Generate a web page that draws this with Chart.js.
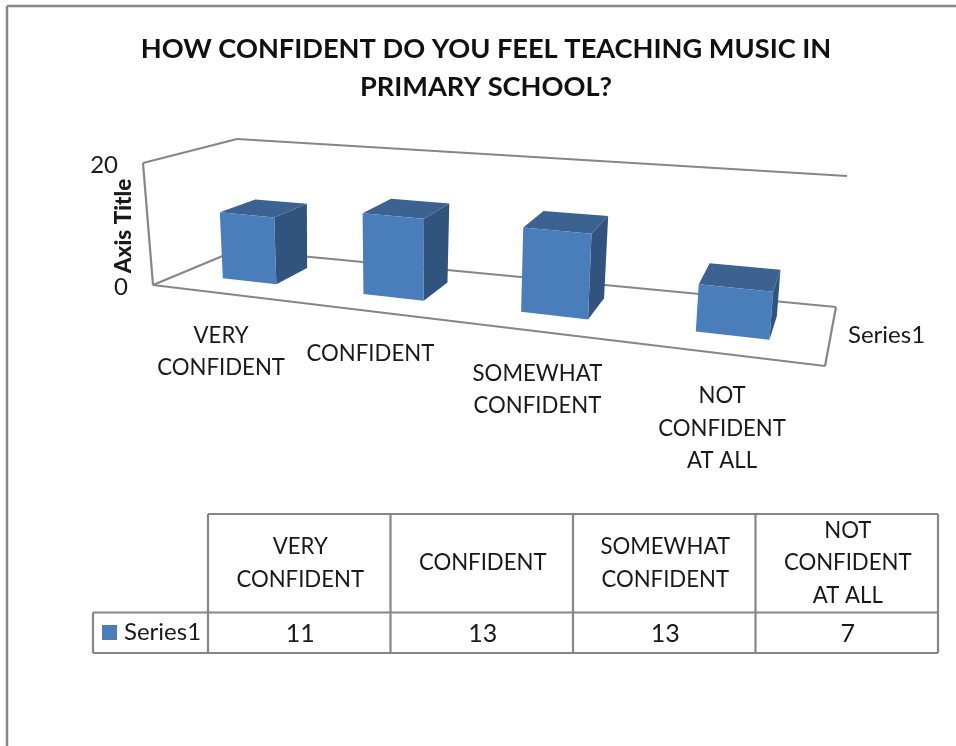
<!DOCTYPE html>
<html><head><meta charset="utf-8">
<style>html,body{margin:0;padding:0;background:#fff}canvas{display:block}</style>
<script src="https://cdn.jsdelivr.net/npm/chart.js@4"></script>
</head><body>
<canvas id="c" width="956" height="746"></canvas>
<script>
const categories = [["VERY","CONFIDENT"],["CONFIDENT"],["SOMEWHAT","CONFIDENT"],["NOT","CONFIDENT","AT ALL"]];
const seriesName = "Series1";
const values = [11,13,13,7];
const valueTicks = [0,20];
const chartTitle = ["HOW CONFIDENT DO YOU FEEL TEACHING MUSIC IN","PRIMARY SCHOOL?"];
const axisTitle = "Axis Title";

const FONT = 'Lato, "Open Sans", sans-serif';
const LINE = '#868686', TEXT = '#1a1a1a';
const FRONT = '#4a7ebb', SIDE = '#31547e', TOP = '#3b6290';
// box corners of the 3D projection: [floor front-left, front-right, back-left, back-right] and same at the top
const floorBox = [[153,285],[825,366],[237,250],[836,307]];
const topBox   = [[143,163],[838,222],[237,139],[847,176]];
const depthFront = 0.33, depthBack = 0.75;

function mix(a,b,k){return [a[0]+(b[0]-a[0])*k,a[1]+(b[1]-a[1])*k];}
function bil(q,u,w){return mix(mix(q[0],q[1],u),mix(q[2],q[3],u),w);}
function warp(t){return 0.0045+0.784*t+0.21*t*t;}
function project(t,v,w){const u=warp(t);return mix(bil(floorBox,u,w),bil(topBox,u,w),v);}
function poly(ctx,pts,fill){ctx.beginPath();pts.forEach((p,i)=>i?ctx.lineTo(p[0],p[1]):ctx.moveTo(p[0],p[1]));ctx.closePath();ctx.fillStyle=fill;ctx.fill();}
function seg(ctx,a,b){ctx.beginPath();ctx.moveTo(a[0],a[1]);ctx.lineTo(b[0],b[1]);ctx.stroke();}

const threeD = {
  id:'threeD',
  beforeDraw(chart){
    const ctx=chart.ctx;ctx.save();
    ctx.strokeStyle=LINE;ctx.lineWidth=2.5;
    seg(ctx,[7,746],[7,6]);seg(ctx,[7,6],[956,6]);
    ctx.lineWidth=2.2;
    const F=floorBox,T=topBox;
    [[T[0],F[0]],[T[0],T[2]],[T[2],T[3]],[F[0],F[2]],[F[2],F[3]],[F[0],F[1]],[F[1],F[3]]].forEach(s=>seg(ctx,s[0],s[1]));
    ctx.restore();
  },
  beforeDatasetDraw(){return false;},
  afterDatasetsDraw(chart){
    const ctx=chart.ctx,a=chart.chartArea,ys=chart.scales.y;ctx.save();
    const meta=chart.getDatasetMeta(0);
    meta.data.forEach(el=>{
      const p=el.getProps(['x','y','base','width'],true);
      const t0=(p.x-p.width/2-a.left)/a.width,t1=(p.x+p.width/2-a.left)/a.width;
      const v=(p.base-p.y)/(ys.bottom-ys.top);
      const f=depthFront,b=depthBack;
      poly(ctx,[project(t1,0,f),project(t1,0,b),project(t1,v,b),project(t1,v,f)],SIDE);
      poly(ctx,[project(t0,v,f),project(t1,v,f),project(t1,v,b),project(t0,v,b)],TOP);
      poly(ctx,[project(t0,0,f),project(t1,0,f),project(t1,v,f),project(t0,v,f)],FRONT);
    });
    // axis labels
    ctx.fillStyle=TEXT;ctx.font='24px '+FONT;ctx.textBaseline='middle';ctx.textAlign='right';
    valueTicks.forEach(val=>{
      const v=(ys.getPixelForValue(0)-ys.getPixelForValue(val))/(ys.bottom-ys.top);
      const edge=mix(topBox[0],floorBox[0],1-v);
      ctx.fillText(String(val),edge[0]-25,edge[1]+2);
    });
    ctx.save();ctx.translate(124,226);ctx.rotate(-Math.PI/2);ctx.textAlign='center';ctx.font='900 22.5px '+FONT;ctx.fillText(axisTitle,0,0);ctx.restore();
    ctx.font='22.2px '+FONT;ctx.textAlign='center';
    categories.forEach((lines,i)=>{
      const t=(chart.scales.x.getPixelForValue(i)-a.left)/a.width;
      const q=project(t,0,0);
      lines.forEach((s,j)=>ctx.fillText(s,q[0]-3,q[1]+26+16+j*32.5));
    });
    ctx.textAlign='left';ctx.font='24px '+FONT;ctx.fillText(seriesName,848,335);
    // data table
    const cols=[208,390.5,573,755.5,938],r0=514,r1=612.5,r2=653,left=93;
    ctx.strokeStyle=LINE;ctx.lineWidth=2.2;
    cols.forEach(x=>seg(ctx,[x,r0],[x,r2]));
    seg(ctx,[cols[0],r0],[cols[4],r0]);seg(ctx,[left,r1],[cols[4],r1]);seg(ctx,[left,r2],[cols[4],r2]);seg(ctx,[left,r1],[left,r2]);
    ctx.textAlign='center';
    categories.forEach((lines,i)=>{
      const cx=(cols[i]+cols[i+1])/2+1,cy=(r0+r1)/2;
      ctx.font='22.2px '+FONT;
      lines.forEach((s,j)=>ctx.fillText(s,cx,cy+(j-(lines.length-1)/2)*32.5));
      ctx.font='25px '+FONT;
      ctx.fillText(String(values[i]),cx,(r1+r2)/2+1);
    });
    ctx.fillStyle=FRONT;ctx.fillRect(102,625,15,15);
    ctx.fillStyle=TEXT;ctx.textAlign='left';ctx.font='24px '+FONT;ctx.fillText(seriesName,124,632);
    ctx.restore();
  }
};

new Chart(document.getElementById('c'),{
  type:'bar',
  data:{labels:categories,datasets:[{label:seriesName,data:values,backgroundColor:FRONT,barPercentage:0.395,categoryPercentage:1}]},
  options:{
    responsive:false,animation:false,
    layout:{padding:{left:16,top:30,right:0,bottom:0}},
    scales:{
      x:{display:false,offset:true},
      y:{display:false,min:valueTicks[0],max:valueTicks[1],ticks:{stepSize:20}}
    },
    plugins:{
      legend:{display:false},tooltip:{enabled:false},
      title:{display:true,text:chartTitle,color:'#111',font:{family:FONT,size:27.2,weight:'bold',lineHeight:1.4},padding:{top:0,bottom:20}}
    }
  },
  plugins:[threeD]
});
</script>
</body></html>
